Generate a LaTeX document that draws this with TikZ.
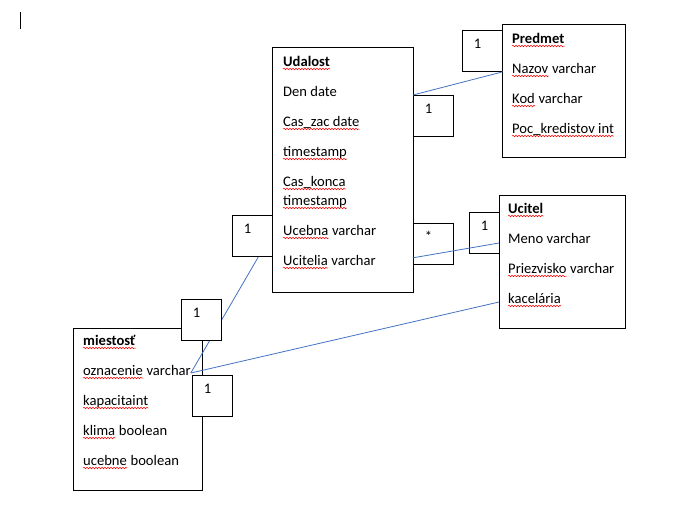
\documentclass[tikz,border=0pt]{standalone}
\usepackage{fontspec}
\setmainfont{Carlito}
\usetikzlibrary{calc,decorations.pathmorphing}
\definecolor{linkblue}{HTML}{4472C4}
\newcommand{\squig}[1]{\draw[squig] ($(#1.base west)+(0,3)$) -- ($(#1.base east)+(0,3)$);}

\begin{document}
\begin{tikzpicture}[x=1pt, y=-1pt,
      cls/.style={draw, fill=white, line width=0.8pt, anchor=north west, inner sep=0pt},
      attr/.style={anchor=base west, inner sep=0pt, font=\fontsize{14.6}{17}\selectfont},
      num/.style={draw, fill=white, line width=0.8pt, anchor=north west, inner xsep=11.5pt,
        inner ysep=0pt, text width=17pt, align=left, text height=18.5pt, text depth=22.5pt,
        font=\fontsize{14.6}{17}\selectfont},
      rel/.style={draw=linkblue, line width=0.8pt},
      squig/.style={draw=red, line width=0.5pt, decorate,
        decoration={snake, amplitude=0.8pt, segment length=3pt}}]
    \useasboundingbox (0,0) rectangle (680,531);
    \draw[line width=0.8pt] (20,12) -- (20,29);
    % tables
    \node[num] (nUc) at (469,212) {1};
    \node[cls, minimum width=141pt, minimum height=245pt] (udalost) at (272,47) {};
    \node[cls, minimum width=123pt, minimum height=133pt] (predmet) at (502,24) {};
    \node[cls, minimum width=126pt, minimum height=133pt] (ucitel) at (499,195) {};
    \node[cls, minimum width=129pt, minimum height=162pt] (miestost) at (73,328) {};
    \node[num] (nPr) at (462,30) {1};
    \node[num] (nUdPr) at (413,95) {1};
    \node[num] (nUdUc) at (413,223) {*};
    \node[num] (nUdMi) at (232,215) {1};
    % attributes
    \node[attr] (udTitle) at (283,66) {\textbf{Udalost}};
    \node[attr] (udDen) at (283,96) {Den date};
    \node[attr] (udZac) at (283,126) {Cas\_zac date};
    \node[attr] (udTs) at (283,156) {timestamp};
    \node[attr] (udKon) at (283,186) {Cas\_konca};
    \node[attr] (udKonTs) at (283,205) {timestamp};
    \node[attr] (udUcebna) at (283,235) {Ucebna};
    \node[attr] (udUcebnaT) at (udUcebna.base east) {\ varchar};
    \node[attr] (udUcitelia) at (283,265) {Ucitelia};
    \node[attr] (udUciteliaT) at (udUcitelia.base east) {\ varchar};
    \node[attr] (prTitle) at (512,43) {\textbf{Predmet}};
    \node[attr] (prNazov) at (512,73) {Nazov};
    \node[attr] (prNazovT) at (prNazov.base east) {\ varchar};
    \node[attr] (prKod) at (512,103) {Kod};
    \node[attr] (prKodT) at (prKod.base east) {\ varchar};
    \node[attr] (prPoc) at (512,133) {Poc\_kredistov int};
    \node[attr] (ucTitle) at (508,213) {\textbf{Ucitel}};
    \node[attr] (ucMeno) at (508,243) {Meno varchar};
    \node[attr] (ucPriez) at (508,273) {Priezvisko};
    \node[attr] (ucPriezT) at (ucPriez.base east) {\ varchar};
    \node[attr] (ucKanc) at (508,303) {kacelária};
    \node[attr] (miTitle) at (83,345) {\textbf{miestosť}};
    \node[attr] (miOzn) at (83,375) {oznacenie};
    \node[attr] (miOznT) at (miOzn.base east) {\ varchar};
    \node[attr] (miKap) at (83,405) {kapacitaint};
    \node[attr] (miKlima) at (83,435) {klima};
    \node[attr] (miKlimaT) at (miKlima.base east) {\ boolean};
    \node[attr] (miUcebne) at (83,465) {ucebne};
    \node[attr] (miUcebneT) at (miUcebne.base east) {\ boolean};
    % spelling marks
    \squig{udTitle} \squig{udZac} \squig{udTs} \squig{udKon} \squig{udKonTs}
    \squig{udUcebna} \squig{udUcitelia}
    \squig{prTitle} \squig{prNazov} \squig{prKod} \squig{prPoc}
    \squig{ucTitle} \squig{ucPriez} \squig{ucKanc}
    \squig{miTitle} \squig{miOzn} \squig{miKap} \squig{miKlima} \squig{miUcebne}
    % relations
    \coordinate (miJoin) at ($(miestost.north east)+(-12,45)$);
    \draw[rel] (nUdPr.north west) -- (nPr.south east);
    \draw[rel] ($(nUdUc.south west)+(0,-7)$) -- ($(ucitel.north west)+(0,48)$);
    \draw[rel] ($(nUdMi.south)+(6,0)$) -- (miJoin);
    \draw[rel] (miJoin) -- ($(ucitel.north west)+(0,107)$);
    \node[num] (nMiUd) at (181,299) {1};
    \node[num] (nMiUc) at (192,375) {1};
  \end{tikzpicture}
\end{document}
